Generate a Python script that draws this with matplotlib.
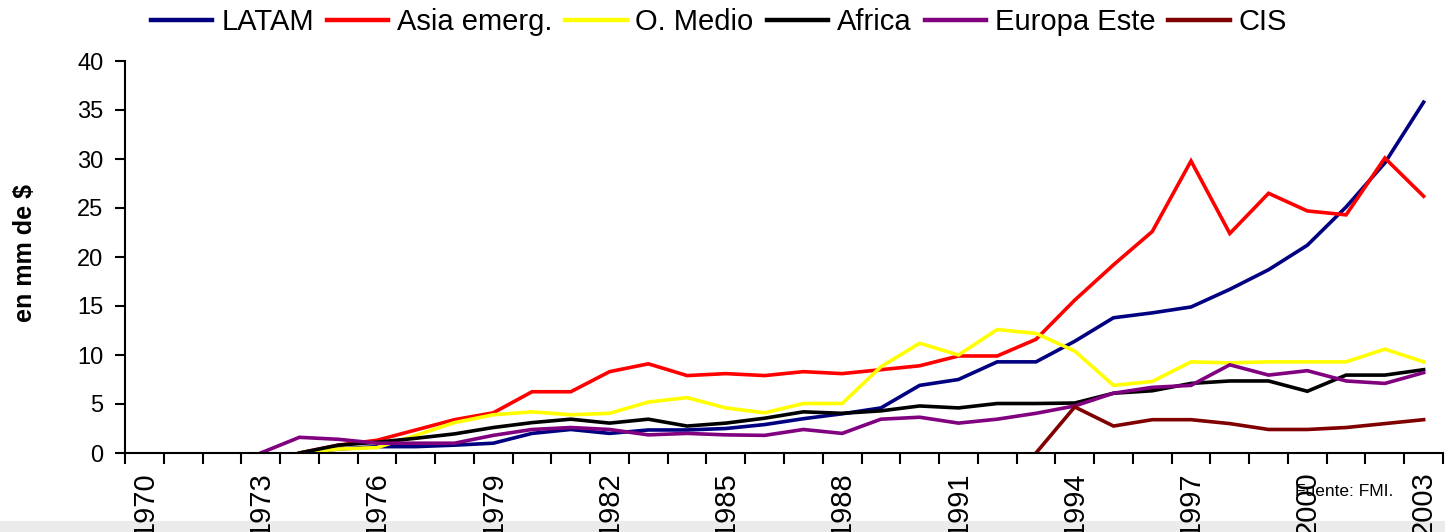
import numpy as np
import matplotlib
matplotlib.use("Agg")
import matplotlib.pyplot as plt
from matplotlib.patches import Rectangle

plt.rcParams['font.family'] = ['Liberation Sans', 'DejaVu Sans']

nan = np.nan
years = list(range(1970, 2004))
tick_labels = [str(y) for y in years if (y - 1970) % 3 == 0]

latam = [nan, nan, nan, nan, 0.0, 0.4, 0.65, 0.65, 0.8, 1.0,
         2.0, 2.4, 2.0, 2.35, 2.35, 2.5, 2.9, 3.5, 4.0, 4.6,
         6.9, 7.5, 9.3, 9.3, 11.4, 13.8, 14.3, 14.9, 16.7, 18.7,
         21.2, 25.1, 29.6, 35.8]
asia = [nan, nan, nan, nan, 0.0, 0.8, 1.3, 2.35, 3.4, 4.1,
        6.25, 6.25, 8.3, 9.1, 7.9, 8.1, 7.9, 8.3, 8.1, 8.5,
        8.9, 9.9, 9.9, 11.6, 15.6, 19.2, 22.6, 29.8, 22.4, 26.5,
        24.7, 24.3, 30.1, 26.2]
omedio = [nan, nan, nan, nan, 0.0, 0.4, 0.55, 1.8, 3.1, 3.9,
          4.2, 3.9, 4.05, 5.2, 5.65, 4.6, 4.1, 5.05, 5.05, 8.8,
          11.2, 10.0, 12.6, 12.2, 10.4, 6.9, 7.3, 9.3, 9.2, 9.3,
          9.3, 9.3, 10.6, 9.3]
africa = [nan, nan, nan, nan, 0.0, 0.8, 1.1, 1.5, 1.95, 2.6,
          3.1, 3.45, 3.05, 3.45, 2.75, 3.05, 3.55, 4.2, 4.05, 4.3,
          4.8, 4.6, 5.05, 5.05, 5.1, 6.1, 6.35, 7.1, 7.35, 7.35,
          6.3, 7.95, 7.95, 8.5]
europa = [nan, nan, nan, 0.0, 1.6, 1.4, 1.0, 1.0, 1.0, 1.8,
          2.4, 2.6, 2.4, 1.85, 2.0, 1.85, 1.8, 2.4, 2.0, 3.45,
          3.65, 3.05, 3.45, 4.05, 4.8, 6.1, 6.7, 6.9, 9.0, 7.95,
          8.4, 7.35, 7.1, 8.2]
cis = [nan] * 23 + [0.0, 4.7, 2.75, 3.4, 3.4, 3.0, 2.4, 2.4, 2.6, 3.0, 3.4]

series = [
    ("LATAM", latam, "#000080"),
    ("Asia emerg.", asia, "#FF0000"),
    ("O. Medio", omedio, "#FFFF00"),
    ("Africa", africa, "#000000"),
    ("Europa Este", europa, "#800080"),
    ("CIS", cis, "#800000"),
]

W, H = 1445, 532
fig = plt.figure(figsize=(W / 100, H / 100), dpi=100)
fig.patch.set_facecolor("white")
fig.patches.append(Rectangle((0, 0), 1, 11 / H, transform=fig.transFigure,
                             facecolor="#EBEBEB", edgecolor="none", zorder=-1))

ax = fig.add_axes([125 / W, 1 - 453 / H, (1443 - 125) / W, (453 - 61) / H])
ax.set_facecolor("none")

x = np.arange(len(years))
for name, vals, col in series:
    ax.plot(x, vals, color=col, lw=2.6, label=name, solid_joinstyle="miter")

ax.set_xlim(-0.5, len(years) - 0.5)
ax.set_ylim(0, 40)
ax.set_yticks(np.arange(0, 41, 5))
ax.tick_params(axis="y", direction="out", length=7, width=1.5, pad=8.5,
               labelsize=17)

label_pos = [i for i, y in enumerate(years) if (y - 1970) % 3 == 0]
ax.set_xticks(label_pos)
ax.set_xticklabels(tick_labels, rotation=90, fontsize=21, va="top", ha="center")
ax.set_xticks(np.arange(-0.5, len(years), 1.0), minor=True)
ax.tick_params(axis="x", which="major", length=0, pad=13)
ax.tick_params(axis="x", which="minor", direction="out", length=8, width=1.5)

for s in ("top", "right"):
    ax.spines[s].set_visible(False)
for s in ("left", "bottom"):
    ax.spines[s].set_linewidth(1.5)

fig.text(25 / W, 1 - 253 / H, "en mm de $", rotation=90, ha="center",
         va="center", fontsize=18, fontweight="bold")

fig.text(1295 / W, 1 - 491 / H, "Fuente: FMI.", ha="left", va="center",
         fontsize=12.5)

handles, labels = ax.get_legend_handles_labels()
leg = fig.legend(handles, labels, loc="center", ncol=6,
                 bbox_to_anchor=(719 / W, 1 - 22 / H), frameon=False,
                 fontsize=21, handlelength=2.1, handletextpad=0.3,
                 columnspacing=0.45, borderaxespad=0)
for ln in leg.get_lines():
    ln.set_linewidth(3.2)

fig.savefig("out.png", dpi=100)
